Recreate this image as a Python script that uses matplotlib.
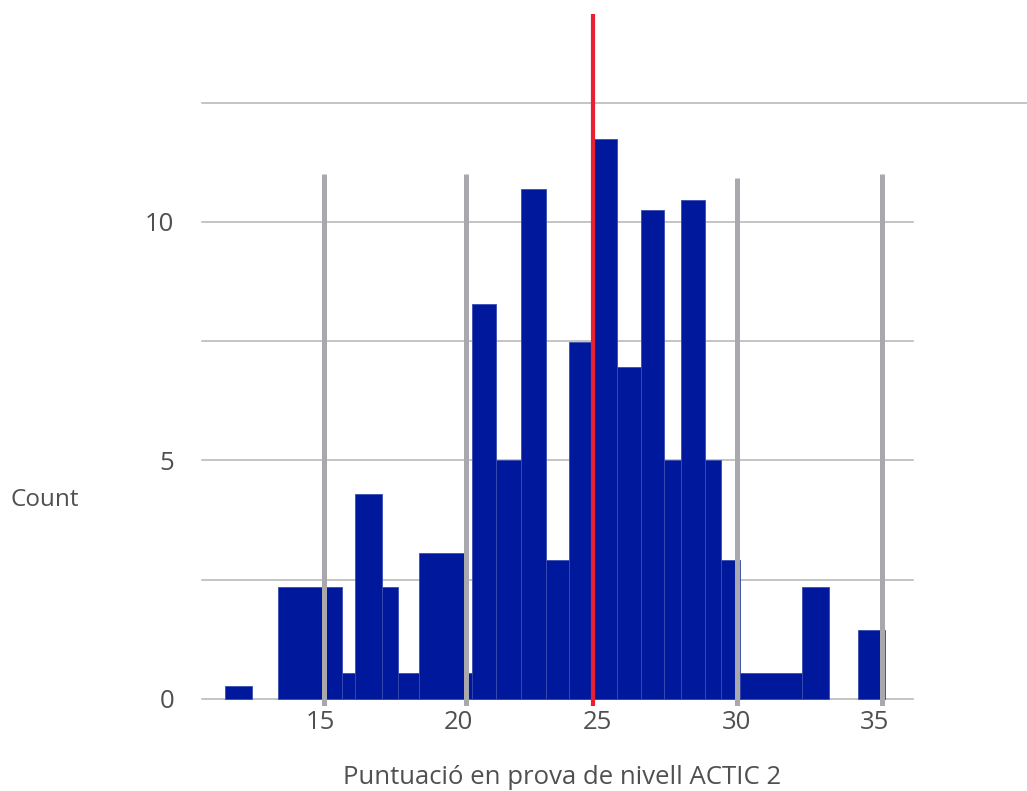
import matplotlib.pyplot as plt

# Histogram bars (left edge, right edge, count)
bar_left = [11.58, 13.49, 15.79, 16.26, 17.23, 18.57, 20.33, 20.48, 21.34, 22.24, 23.14,
            23.97, 24.84, 25.70, 26.57, 27.40, 28.01, 28.87, 29.45, 32.37, 34.39]
bar_right = [12.55, 15.79, 18.57, 17.23, 17.81, 20.26, 32.37, 21.34, 22.24, 23.14, 23.97,
             24.84, 25.70, 26.57, 27.40, 28.01, 28.87, 29.45, 30.14, 33.34, 35.36]
bar_count = [0.26, 2.34, 0.54, 4.29, 2.34, 3.05, 0.54, 8.28, 5.0, 10.69, 2.91,
             7.48, 11.74, 6.96, 10.25, 5.0, 10.46, 5.0, 2.91, 2.34, 1.45]

gray_lines = [15.14, 20.26, 30.03, 35.25]
gray_tops = [11.0, 11.0, 10.92, 11.0]
red_line = 24.84

x_ticks = [15, 20, 25, 30, 35]
y_ticks = [0, 5, 10]
grid_y = [0, 2.5, 5, 7.5, 10, 12.5]

x_label = "Puntuació en prova de nivell ACTIC 2"
y_label = "Count"

plt.rcParams['font.family'] = ['Open Sans', 'DejaVu Sans']
text_color = "#505050"

fig = plt.figure(figsize=(10.27, 7.91), dpi=100)
ax = fig.add_axes([202 / 1027, 1 - 706 / 791, 711 / 1027, 692 / 791])
ax.set_xlim(10.75, 36.37)
ax.set_ylim(-0.15, 14.36)

# gridlines (the top one runs past the plot to the right edge)
for g in grid_y:
    xmax = 825 / 711 if g == grid_y[-1] else 1
    ax.axhline(g, xmin=0, xmax=xmax, color="#b4b4b4", lw=1.1, zorder=0, clip_on=False)

widths = [r - l for l, r in zip(bar_left, bar_right)]
ax.bar(bar_left, bar_count, width=widths, align="edge", color="#00199c",
       edgecolor="#3a4db0", linewidth=0.6, zorder=2)

for gx, top in zip(gray_lines, gray_tops):
    ax.plot([gx, gx], [-0.15, top], color="#a9a9ad", lw=3.6, zorder=3,
            solid_capstyle="butt")

ax.axvline(red_line, color="#e8202f", lw=3.0, zorder=4)

for s in ax.spines.values():
    s.set_visible(False)
ax.set_xticks(x_ticks)
ax.set_yticks(y_ticks)
ax.tick_params(length=0, labelsize=18.5, labelcolor=text_color)
ax.tick_params(axis="x", pad=3)
ax.tick_params(axis="y", pad=20)

fig.text(562 / 1027, 1 - 777 / 791, x_label, ha="center", va="center",
         fontsize=18.5, color=text_color)
fig.text(45 / 1027, 1 - 500 / 791, y_label, ha="center", va="center",
         fontsize=17.5, color=text_color)

fig.savefig("out.png", dpi=100)
